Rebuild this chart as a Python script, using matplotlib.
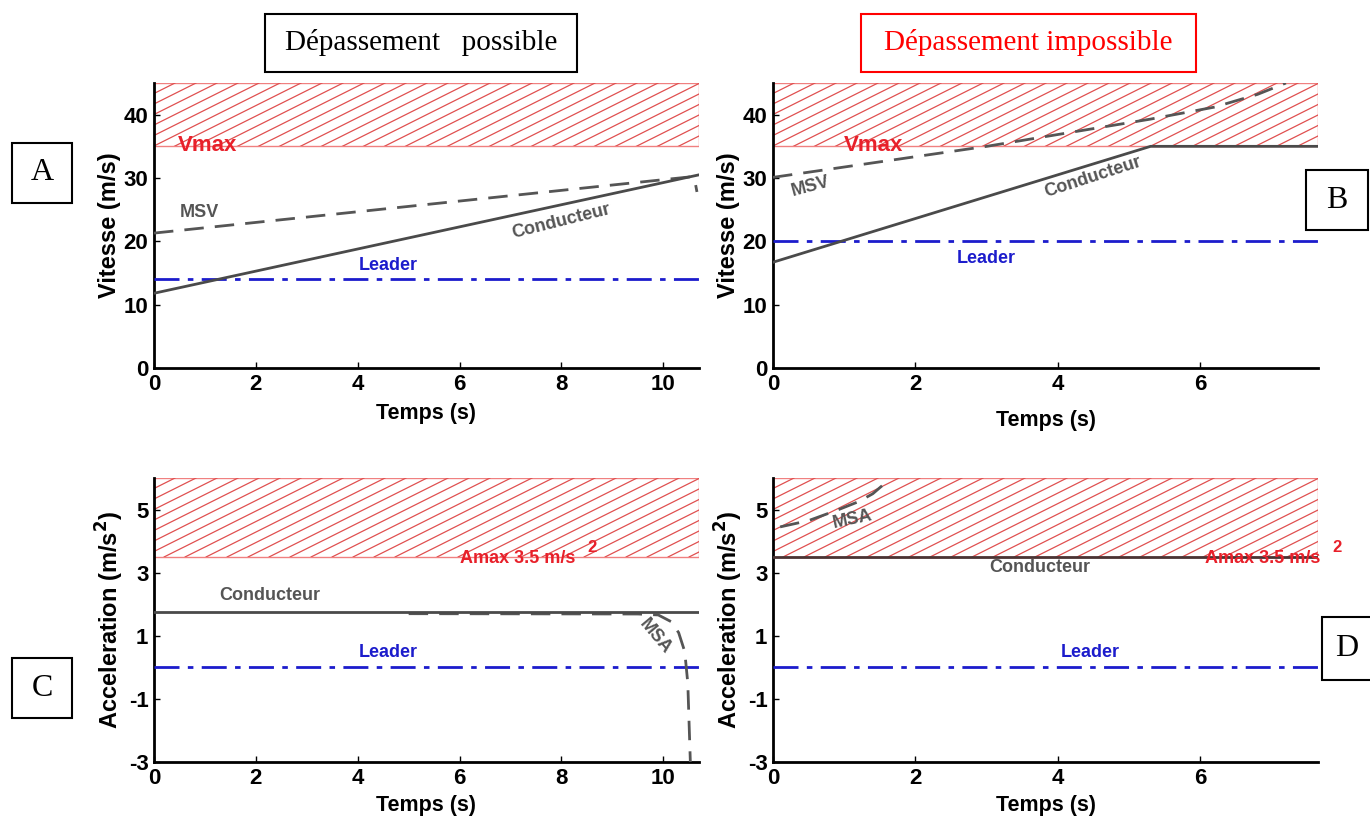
import numpy as np
import matplotlib.pyplot as plt
from matplotlib.patches import Rectangle

# ---- data ----
# A : vitesse, dépassement possible
tA = [0, 10.7]
condA = [11.8, 30.5]
msvA_t = [0, 10.55, 10.62, 10.66]
msvA_v = [21.3, 30.2, 29.5, 27.8]
leaderA = 14.0

# B : vitesse, dépassement impossible
condB_t = [0, 5.3, 7.65]
condB_v = [16.7, 35.0, 35.0]
msvB_t = [0, 3.0, 5.3, 6.2, 6.8, 7.2]
msvB_v = [30.1, 35.0, 39.3, 41.2, 43.2, 45.0]
leaderB = 20.0

vmax = 35.0
amax = 3.5

# C : acceleration, dépassement possible
condC = 1.75
msaC_t = [5.0, 9.5, 9.9, 10.15, 10.3, 10.42, 10.48, 10.53]
msaC_a = [1.70, 1.69, 1.66, 1.45, 1.1, 0.5, -0.5, -3.0]
leaderC = 0.0

# D : acceleration, dépassement impossible
condD = 3.5
msaD_t = [0.1, 0.5, 0.9, 1.2, 1.4, 1.57]
msaD_a = [4.45, 4.65, 4.98, 5.25, 5.5, 5.83]
leaderD = 0.0

xmaxL = 10.7
xmaxR = 7.65

plt.rcParams['font.family'] = ['Liberation Sans', 'DejaVu Sans']
plt.rcParams['font.weight'] = 'bold'
plt.rcParams['axes.unicode_minus'] = False

GRAY = '#4a4a4a'
TGRAY = '#555555'
BLUE = '#1c1ccc'
RED = '#e8202a'
HRED = '#e05050'
FS = 13      # annotation size
TICK = 16
YLAB = 17
XLAB = 15.5

fig = plt.figure(figsize=(13.7, 8.19), dpi=100)
FW, FH = 1370, 819


def make_ax(l, t, r, b):
    ax = fig.add_axes([l / FW, 1 - b / FH, (r - l) / FW, (b - t) / FH])
    for s in ['top', 'right']:
        ax.spines[s].set_visible(False)
    for s in ['left', 'bottom']:
        ax.spines[s].set_linewidth(2)
    ax.tick_params(direction='in', length=4, width=1, labelsize=TICK, pad=4)
    return ax


def hatch_band(ax, y0, y1, pw, ph):
    # red hatched forbidden zone between y0 and y1 (data units)
    rect = Rectangle((0, y0), ax.get_xlim()[1], y1 - y0, facecolor='none',
                     edgecolor='#f08080', lw=1.0, zorder=1)
    ax.add_patch(rect)
    lo, hi = ax.get_ylim()
    fb = (y0 - lo) / (hi - lo)
    ft = (y1 - lo) / (hi - lo)
    slope = 0.5 * pw / ph
    step = 21.0 / pw
    dx = (ft - fb) / slope
    c = -dx
    while c < 1.0:
        ln, = ax.plot([c, c + dx], [fb, ft], transform=ax.transAxes,
                      color=HRED, lw=0.9, zorder=1)
        ln.set_clip_path(rect)
        c += step


def ticks_bold(ax):
    for lab in ax.get_xticklabels() + ax.get_yticklabels():
        lab.set_fontweight('bold')


# ---------- A ----------
axA = make_ax(154, 83, 699, 368)
axA.set_xlim(0, xmaxL)
axA.set_ylim(0, 45)
axA.set_xticks([0, 2, 4, 6, 8, 10])
axA.set_yticks([0, 10, 20, 30, 40])
hatch_band(axA, vmax, 45, 545, 285)
axA.plot(tA, [leaderA, leaderA], color=BLUE, lw=2, dashes=(9, 3, 2, 3), zorder=3)
axA.plot(msvA_t, msvA_v, color=TGRAY, lw=2, dashes=(7, 4), zorder=3)
axA.plot(tA, condA, color=GRAY, lw=2, zorder=4)
axA.text(0.47, 35.1, 'Vmax', color=RED, fontsize=16, fontweight='bold', va='center')
axA.text(0.5, 24.6, 'MSV', color=TGRAY, fontsize=FS, fontweight='bold', va='center')
axA.text(8.0, 23.2, 'Conducteur', color=TGRAY, fontsize=FS, fontweight='bold',
         rotation=14, ha='center', va='center')
axA.text(4.6, 16.2, 'Leader', color=BLUE, fontsize=FS, fontweight='bold',
         ha='center', va='center')
axA.set_xlabel('Temps (s)', fontsize=XLAB, fontweight='bold', labelpad=6)
axA.set_ylabel('Vitesse (m/s)', fontsize=YLAB, fontweight='bold', labelpad=2)
ticks_bold(axA)

# ---------- B ----------
axB = make_ax(773, 83, 1318, 368)
axB.set_xlim(0, xmaxR)
axB.set_ylim(0, 45)
axB.set_xticks([0, 2, 4, 6])
axB.set_yticks([0, 10, 20, 30, 40])
hatch_band(axB, vmax, 45, 545, 285)
axB.plot([0, xmaxR], [leaderB, leaderB], color=BLUE, lw=2, dashes=(9, 3, 2, 3), zorder=3)
axB.plot(msvB_t, msvB_v, color=TGRAY, lw=2, dashes=(7, 4), zorder=3)
axB.plot(condB_t, condB_v, color=GRAY, lw=2, zorder=4)
axB.text(1.0, 35.1, 'Vmax', color=RED, fontsize=16, fontweight='bold', va='center')
axB.text(0.53, 28.6, 'MSV', color=TGRAY, fontsize=FS, fontweight='bold',
         rotation=15, ha='center', va='center')
axB.text(4.49, 30.2, 'Conducteur', color=TGRAY, fontsize=FS, fontweight='bold',
         rotation=18, ha='center', va='center')
axB.text(3.0, 17.3, 'Leader', color=BLUE, fontsize=FS, fontweight='bold',
         ha='center', va='center')
axB.set_xlabel('Temps (s)', fontsize=XLAB, fontweight='bold', labelpad=11)
axB.set_ylabel('Vitesse (m/s)', fontsize=YLAB, fontweight='bold', labelpad=2)
ticks_bold(axB)

# ---------- C ----------
axC = make_ax(154, 478, 699, 762)
axC.set_xlim(0, xmaxL)
axC.set_ylim(-3, 6)
axC.set_xticks([0, 2, 4, 6, 8, 10])
axC.set_yticks([-3, -1, 1, 3, 5])
hatch_band(axC, amax, 6, 545, 284)
axC.plot([0, xmaxL], [leaderC, leaderC], color=BLUE, lw=2, dashes=(9, 3, 2, 3), zorder=3)
axC.plot(msaC_t, msaC_a, color=TGRAY, lw=2, dashes=(7, 4), zorder=3)
axC.plot([0, xmaxL], [condC, condC], color=GRAY, lw=2, zorder=4)
axC.text(6.0, 3.44, 'Amax 3.5 m/s', color=RED, fontsize=FS, fontweight='bold', va='center')
axC.text(8.5, 3.8, '2', color=RED, fontsize=12, fontweight='bold', va='center')
axC.text(2.28, 2.27, 'Conducteur', color=TGRAY, fontsize=FS, fontweight='bold',
         ha='center', va='center')
axC.text(9.84, 0.97, 'MSA', color=TGRAY, fontsize=FS, fontweight='bold',
         rotation=-50, ha='center', va='center')
axC.text(4.6, 0.46, 'Leader', color=BLUE, fontsize=FS, fontweight='bold',
         ha='center', va='center')
axC.set_xlabel('Temps (s)', fontsize=XLAB, fontweight='bold', labelpad=5)
axC.set_ylabel('Acceleration (m/s$\\mathbf{^2}$)', fontsize=YLAB, fontweight='bold', labelpad=2)
ticks_bold(axC)

# ---------- D ----------
axD = make_ax(773, 478, 1318, 762)
axD.set_xlim(0, xmaxR)
axD.set_ylim(-3, 6)
axD.set_xticks([0, 2, 4, 6])
axD.set_yticks([-3, -1, 1, 3, 5])
hatch_band(axD, amax, 6, 545, 284)
axD.plot([0, xmaxR], [leaderD, leaderD], color=BLUE, lw=2, dashes=(9, 3, 2, 3), zorder=3)
axD.plot(msaD_t, msaD_a, color=TGRAY, lw=2, dashes=(7, 4), zorder=3)
axD.plot([0, xmaxR], [condD, condD], color='#4a3434', lw=2, zorder=4)
axD.text(6.06, 3.44, 'Amax 3.5 m/s', color=RED, fontsize=FS, fontweight='bold',
         va='center', zorder=5, clip_on=False)
axD.text(7.85, 3.8, '2', color=RED, fontsize=12, fontweight='bold', va='center',
         clip_on=False)
axD.text(3.74, 3.16, 'Conducteur', color=TGRAY, fontsize=FS, fontweight='bold',
         ha='center', va='center')
axD.text(1.12, 4.68, 'MSA', color=TGRAY, fontsize=FS, fontweight='bold',
         rotation=12, ha='center', va='center')
axD.text(4.46, 0.46, 'Leader', color=BLUE, fontsize=FS, fontweight='bold',
         ha='center', va='center')
axD.set_xlabel('Temps (s)', fontsize=XLAB, fontweight='bold', labelpad=5)
axD.set_ylabel('Acceleration (m/s$\\mathbf{^2}$)', fontsize=YLAB, fontweight='bold', labelpad=2)
ticks_bold(axD)


# ---------- boxed titles and letters ----------
def box_text(l, t, r, b, txt, color, size, lw=1.5):
    fig.patches.append(Rectangle((l / FW, 1 - b / FH), (r - l) / FW, (b - t) / FH,
                                 transform=fig.transFigure, facecolor='white',
                                 edgecolor=color, lw=lw, zorder=10))
    fig.text((l + r) / 2 / FW, 1 - (t + b) / 2 / FH, txt, color=color, fontsize=size,
             family=['Liberation Serif', 'DejaVu Serif'], fontweight='normal',
             ha='center', va='center', zorder=11)


box_text(265, 14, 577, 72, 'Dépassement   possible', 'black', 21)
box_text(861, 14, 1196, 72, 'Dépassement impossible', '#ff0000', 21)
box_text(12, 143, 72, 203, 'A', 'black', 23)
box_text(1306, 170, 1368, 230, 'B', 'black', 23)
box_text(12, 658, 72, 718, 'C', 'black', 23)
box_text(1322, 617, 1372, 680, 'D', 'black', 23)

fig.savefig('out.png', dpi=100)
